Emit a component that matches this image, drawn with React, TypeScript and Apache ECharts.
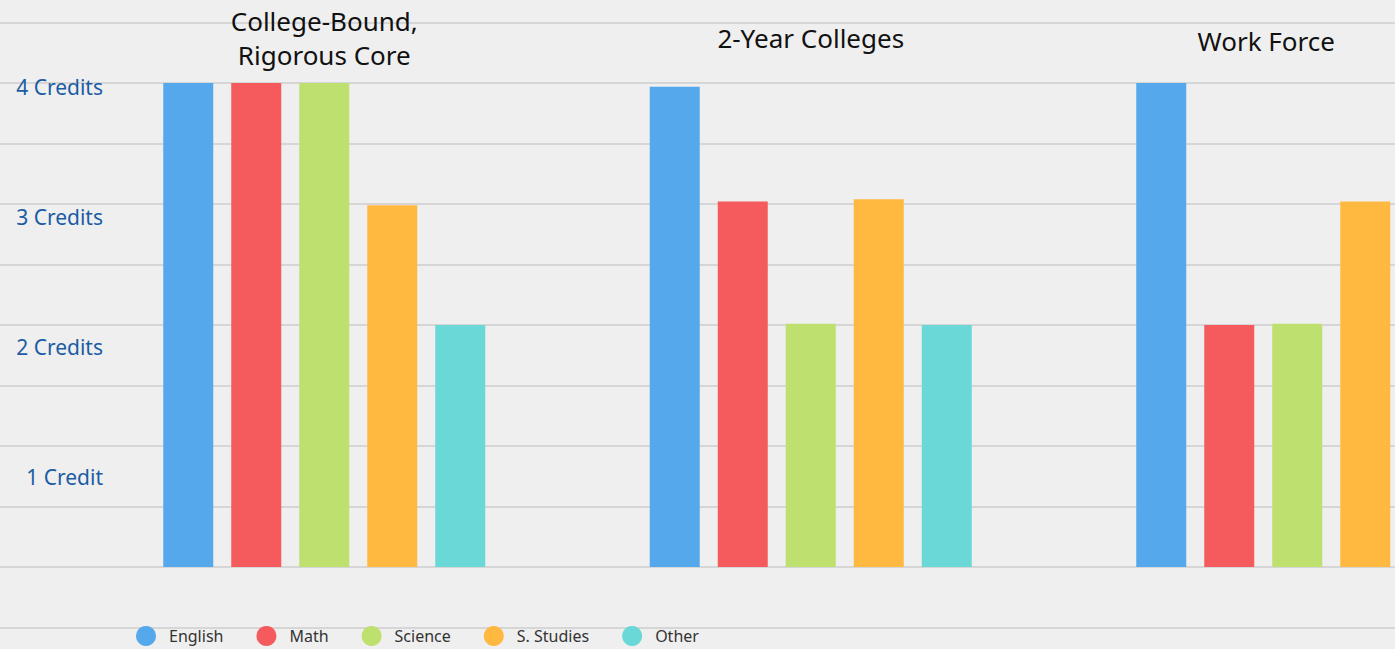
import React, { useEffect, useRef } from "react";
import * as echarts from "echarts";

const categories = ["College-Bound,\nRigorous Core", "2-Year Colleges", "Work Force"];
const seriesNames = ["English", "Math", "Science", "S. Studies", "Other"];
const english = [4, 3.97, 4];
const math = [4, 3.02, 2];
const science = [4, 2.01, 2.01];
const sStudies = [2.99, 3.04, 3.02];
const other = [2, 2, 2];
const creditTicks = [1, 2, 3, 4];
const colors = ["#55a8ec", "#f55b5c", "#bee06e", "#ffb940", "#69d8d7"];

export default function App() {
  const ref = useRef<HTMLDivElement>(null);
  useEffect(() => {
    if (!ref.current) return;
    const chart = echarts.init(ref.current, null, { renderer: "svg" });
    const values = [english, math, science, sStudies, other];
    const font = "'Noto Sans', sans-serif";
    chart.setOption({
      animation: false,
      backgroundColor: "#efefef",
      color: colors,
      textStyle: { fontFamily: font },
      grid: [
        {
          left: 81,
          width: 1459.5,
          top: 22.5,
          bottom: 21.5,
          containLabel: false,
          outerBoundsMode: "none",
        },
        {
          left: 0,
          right: 0,
          top: 22.5,
          bottom: 21.5,
          containLabel: false,
          outerBoundsMode: "none",
          z: -1,
        },
      ],
      legend: {
        data: seriesNames,
        left: 136,
        top: 626,
        padding: 0,
        icon: "circle",
        itemWidth: 20,
        itemHeight: 20,
        itemGap: 33,
        textStyle: { fontSize: 16, color: "#333", fontFamily: font, lineHeight: 20, padding: [0, 0, 0, 8] },
      },
      xAxis: [
        {
          type: "category",
          data: categories,
          gridIndex: 0,
          position: "top",
          axisLine: { show: false },
          axisTick: { show: false },
          axisLabel: {
            inside: true,
            margin: 15,
            verticalAlign: "middle",
            fontSize: 26,
            lineHeight: 34,
            color: "#111",
            fontFamily: font,
            formatter: (v: string, i: number) => (i === 2 ? "{s|" + v + "}" : v),
            rich: { s: { fontSize: 26, color: "#111", fontFamily: font, padding: [6, 62, 0, 0] } },
          },
        },
        {
          type: "value",
          gridIndex: 1,
          min: 0,
          max: 1,
          show: false,
        },
      ],
      yAxis: [
        {
          type: "value",
          gridIndex: 0,
          min: -0.5,
          max: 4.5,
          interval: 0.5,
          axisLine: { show: false },
          axisTick: { show: false },
          axisLabel: { show: false },
          splitLine: { show: false },
        },
        {
          type: "value",
          gridIndex: 0,
          min: -0.1577,
          max: 4.4962,
          position: "left",
          offset: -30,
          axisLine: { show: false },
          axisTick: { show: false },
          splitLine: { show: false },
          axisLabel: {
            customValues: creditTicks,
            margin: 8,
            fontSize: 21,
            color: "#1b5ca4",
            fontFamily: font,
            formatter: (v: number) => (v === 1 ? "1 Credit" : v + " Credits"),
          },
        },
        {
          type: "value",
          gridIndex: 1,
          min: -0.5,
          max: 4.5,
          interval: 0.5,
          axisLine: { show: false },
          axisTick: { show: false },
          axisLabel: { show: false },
          splitLine: { show: true, lineStyle: { color: "rgba(0,0,0,0.1)", width: 2 } },
          z: -1,
        },
      ],
      series: seriesNames.map((name, i) => ({
        name,
        type: "bar",
        xAxisIndex: 0,
        yAxisIndex: 0,
        data: values[i],
        barWidth: 50,
        barGap: "36%",
        itemStyle: { color: colors[i] },
      })),
    });
    return () => chart.dispose();
  }, []);
  return (
    <div
      ref={ref}
      style={{ position: "fixed", left: 0, top: 0, width: 1395, height: 649 }}
    />
  );
}
